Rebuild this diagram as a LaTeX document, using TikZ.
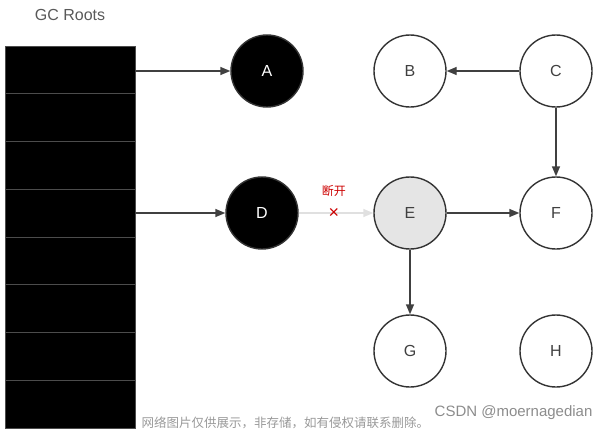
\documentclass[tikz,border=0pt]{standalone}
\usepackage{fontspec}
\setmainfont{Liberation Sans}
\newfontfamily\cjk{Noto Sans CJK SC}
\usetikzlibrary{arrows.meta}
\begin{document}
\begin{tikzpicture}[x=1pt,y=-1pt,
  obj/.style={circle,draw=black!80,line width=1.4pt,minimum size=72pt,inner sep=0pt,font=\fontsize{16}{16}\selectfont,text=black!75},
  root/.style={obj,fill=black,text=white},
  arr/.style={draw=black!75,line width=1.4pt,-{Triangle[length=10pt,width=8pt]}},
  cell/.style={draw=black!70,fill=black,line width=1pt,minimum width=130pt,minimum height=47.75pt,inner sep=0pt}]
\useasboundingbox (0,0) rectangle (608,432);
\node[text=black!65,font=\fontsize{16}{16}\selectfont] (title) at (70,15) {GC Roots};
\foreach \i in {0,...,7} {
  \node[cell] (c\i) at (70,{46+47.75*\i+23.875}) {};
}
\node[root] (A) at (267,71) {A};
\node[root] (D) at (262,213) {D};
\node[obj] (B) at (410,71) {B};
\node[obj] (C) at (556,71) {C};
\node[obj,fill=black!10] (E) at (410,213) {E};
\node[obj] (F) at (556,213) {F};
\node[obj] (G) at (410,351) {G};
\node[obj] (H) at (556,351) {H};
\coordinate (s1) at (135,71);
\coordinate (s2) at (135,213);
\draw[arr] (s1) -- (A);
\draw[arr] (s2) -- (D);
\draw[draw=black!12,line width=1.4pt,-{Triangle[length=10pt,width=8pt,fill=black!12]}] (D) -- (E)
  node[pos=0.47,text=red!80!black,font=\fontsize{18}{18}\selectfont] (x) {×}
  node[pos=0.47,above=12pt,text=red!80!black,font=\cjk\fontsize{12}{12}\selectfont] (lbl) {断开};
\draw[arr] (C) -- (B);
\draw[arr] (C) -- (F);
\draw[arr] (E) -- (F);
\draw[arr] (E) -- (G);
\node[text=black!45,font=\fontsize{15}{15}\selectfont,anchor=east] (wm1) at (596,413) {CSDN @moernagedian};
\node[text=black!40,font=\cjk\fontsize{12.5}{12.5}\selectfont,anchor=west] (wm2) at (138,423) {网络图片仅供展示，非存储，如有侵权请联系删除。};
\end{tikzpicture}
\end{document}
